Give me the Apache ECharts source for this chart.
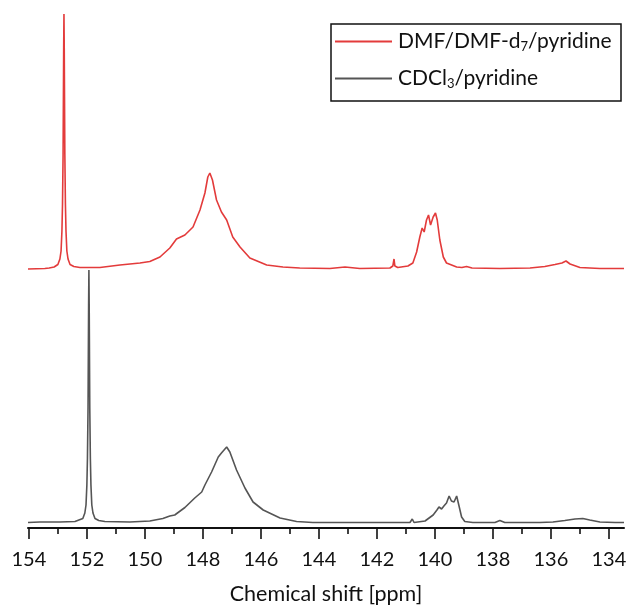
<!DOCTYPE html>
<html>
<head>
<meta charset="utf-8">
<script src="https://cdn.jsdelivr.net/npm/echarts@6/dist/echarts.min.js"></script>
<style>html,body{margin:0;padding:0;background:#fff}#c{width:628px;height:608px}</style>
</head>
<body>
<div id="c"></div>
<script>
// Chemical shift (ppm) and intensity (arbitrary units, above each trace's own baseline)
var redPpm = [154.03,153.45,153.30,153.13,153.00,152.93,152.89,152.86,152.84,152.82,152.80,152.79,152.78,152.76,152.74,152.72,152.69,152.65,152.58,152.45,152.24,151.55,150.86,150.17,149.83,149.48,149.14,148.91,148.62,148.34,148.10,147.93,147.83,147.76,147.67,147.53,147.36,147.18,146.97,146.72,146.38,145.80,145.24,144.66,143.62,143.10,142.59,141.55,141.45,141.41,141.38,141.28,140.93,140.76,140.63,140.52,140.44,140.37,140.29,140.22,140.15,140.06,139.98,139.92,139.83,139.71,139.60,139.25,139.07,138.91,138.72,137.76,136.72,136.21,135.86,135.62,135.48,135.34,135.00,134.31,133.48];
var redIntensity = [0,0.5,1,2,4.5,10,18,38,65,115,220,255,220,115,65,38,18,10,4.5,2.5,1.5,1.5,4,6,7.5,12,21,30,34,42,59,76,92,96,89,69,57,49,32,22,11,4,2,1,0.5,2,0.5,1,3,10,3,1.5,3,6,17,32,41,37,49,54,44,52,56,49,29,12,6,2,1.5,2.5,1,0.5,1,2.5,4.5,6,8,5,1.5,0.5,0.5];

var blackPpm = [154.03,153.62,152.93,152.41,152.14,152.07,152.03,152.00,151.98,151.96,151.94,151.93,151.92,151.90,151.88,151.86,151.83,151.79,151.72,151.59,151.38,150.52,149.83,149.38,149.14,148.97,148.62,148.28,148.04,147.93,147.70,147.47,147.36,147.18,147.07,146.84,146.55,146.27,145.92,145.34,144.77,144.21,142.00,140.86,140.78,140.72,140.34,140.06,139.93,139.86,139.77,139.69,139.60,139.51,139.43,139.34,139.25,139.16,139.08,138.97,138.69,137.93,137.76,137.59,136.38,135.93,135.52,135.17,134.90,134.66,134.31,133.79,133.48];
var blackIntensity = [0.5,1,1,1.5,4.5,10,18,38,65,115,218,253,218,115,65,38,18,10,4.5,2.5,1.5,1,2,4.5,7,8,15.5,25,31,38,51,66,70,76,71,53,35,21,13,5,1.5,0.5,0.5,0.5,4,0.5,2,8,13,16,14,17,20,27,22,21,27,16,6,1.5,0.5,0.5,2.5,0.5,0.5,1,2.5,4,4.5,3,1,0.5,0.5];

var majorTicks = [154,152,150,148,146,144,142,140,138,136,134];
var minorTicks = [153,151,149,147,145,143,141,139,137,135];

var seriesNames = ['DMF/DMF-d{sub|7}/pyridine', 'CDCl{sub|3}/pyridine'];
var redOffset = 259, blackOffset = 5;

function build(ppm, inten, off) {
  return ppm.map(function (p, i) { return [p, inten[i] + off]; });
}

var FONT = 'Lato';
var chart = echarts.init(document.getElementById('c'), null, {renderer: 'canvas'});
chart.setOption({
  animation: false,
  backgroundColor: '#fff',
  grid: {left: 28, right: 4, top: 13, bottom: 80, containLabel: false, outerBoundsMode: 'none'},
  xAxis: [{
    type: 'value', inverse: true, min: 133.48, max: 154.03,
    name: 'Chemical shift [ppm]', nameLocation: 'middle', nameGap: 55,
    nameTextStyle: {fontFamily: FONT, fontSize: 21.5, color: '#111'},
    axisLine: {show: true, lineStyle: {color: '#111', width: 2}},
    axisTick: {show: true, length: 11, lineStyle: {color: '#111', width: 1.6}, customValues: majorTicks},
    axisLabel: {show: true, margin: 22, fontFamily: FONT, fontSize: 20, color: '#111', customValues: majorTicks,
      formatter: function (v) { return String(v); }},
    splitLine: {show: false}
  }, {
    type: 'value', inverse: true, min: 133.48, max: 154.03, position: 'bottom',
    axisLine: {show: false},
    axisTick: {show: true, length: 6, lineStyle: {color: '#111', width: 1.6}, customValues: minorTicks},
    axisLabel: {show: false, customValues: minorTicks},
    splitLine: {show: false}
  }],
  yAxis: {type: 'value', min: 0, max: 515, show: false, splitLine: {show: false}},
  legend: {
    orient: 'vertical', left: 335, top: 31, padding: 0, itemWidth: 57, itemHeight: 2, icon: 'rect', itemGap: 15,
    data: [seriesNames[0], seriesNames[1]],
    formatter: function (n) { return n; },
    textStyle: {fontFamily: FONT, fontSize: 21, color: '#111', padding: [0, 0, 0, 1],
      rich: {sub: {fontFamily: FONT, fontSize: 13, color: '#111', verticalAlign: 'bottom', padding: [10, 0, 0, 0]}}}
  },
  graphic: [{type: 'rect', shape: {x: 331, y: 24, width: 290, height: 77},
    style: {fill: 'none', stroke: '#111', lineWidth: 1.5}, z: 10}],
  series: [{
    name: seriesNames[0], type: 'line', showSymbol: false, symbol: 'none',
    data: build(redPpm, redIntensity, redOffset),
    lineStyle: {color: '#e33b3b', width: 1.6}, itemStyle: {color: '#e33b3b'}
  }, {
    name: seriesNames[1], type: 'line', showSymbol: false, symbol: 'none',
    data: build(blackPpm, blackIntensity, blackOffset),
    lineStyle: {color: '#555555', width: 1.6}, itemStyle: {color: '#555555'}
  }]
});
</script>
</body>
</html>
